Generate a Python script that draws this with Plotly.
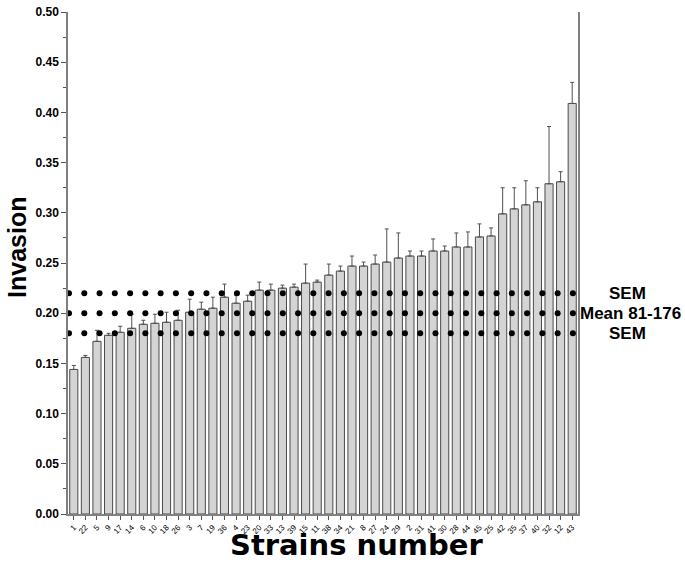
import numpy as np
import plotly.graph_objects as go

# strains, sorted by invasion (as in the original figure)
strains = ["1", "22", "5", "9", "17", "14", "6", "10", "18", "26",
           "3", "7", "19", "36", "4", "23", "20", "33", "13", "39",
           "15", "11", "38", "34", "21", "8", "27", "24", "29", "2",
           "31", "41", "30", "28", "44", "45", "25", "42", "35", "37",
           "40", "32", "12", "43"]

invasion = [0.144, 0.156, 0.172, 0.178, 0.181, 0.185, 0.189, 0.190, 0.191, 0.193,
            0.201, 0.204, 0.205, 0.216, 0.210, 0.212, 0.223, 0.223, 0.225, 0.226,
            0.230, 0.231, 0.238, 0.242, 0.247, 0.247, 0.249, 0.251, 0.255, 0.257,
            0.257, 0.262, 0.262, 0.266, 0.266, 0.276, 0.277, 0.299, 0.304, 0.308,
            0.311, 0.329, 0.331, 0.409]

sem = [0.004, 0.002, 0.011, 0.002, 0.006, 0.014, 0.004, 0.009, 0.010, 0.010,
       0.013, 0.007, 0.011, 0.013, 0.008, 0.006, 0.008, 0.006, 0.003, 0.003,
       0.019, 0.002, 0.011, 0.005, 0.010, 0.004, 0.009, 0.033, 0.025, 0.005,
       0.005, 0.012, 0.005, 0.014, 0.015, 0.013, 0.008, 0.026, 0.021, 0.024,
       0.014, 0.057, 0.010, 0.021]

# reference levels of strain 81-176
ref_levels = [0.22, 0.20, 0.18]
ref_labels = ["SEM", "Mean 81-176", "SEM"]

FONT = "Liberation Sans, Arial, sans-serif"

fig = go.Figure()

fig.add_trace(go.Bar(
    x=strains, y=invasion,
    marker=dict(color="#d4d4d4", line=dict(color="#4a4a4a", width=1)),
    error_y=dict(type="data", array=sem, arrayminus=[0] * len(sem),
                 symmetric=False, color="#505050", thickness=1, width=2),
    showlegend=False,
))

# dotted reference lines drawn as rows of dots on an overlay axis
n_dots = 34
dots_x = np.linspace(0.002, 0.99, n_dots)
for lvl in ref_levels:
    fig.add_trace(go.Scatter(
        x=dots_x, y=[lvl] * n_dots, xaxis="x2",
        mode="markers", marker=dict(color="black", size=6),
        showlegend=False, hoverinfo="skip",
    ))

for lvl, lab in zip(ref_levels, ref_labels):
    fig.add_annotation(
        x=1.0 if lab.startswith("Mean") else 1.057, y=lvl,
        xref="paper", yref="y", xanchor="left", yanchor="middle",
        text=lab, showarrow=False,
        font=dict(family=FONT, size=17, color="black", weight="bold"),
    )

# axis titles
fig.add_annotation(
    x=0.567, y=-0.061, xref="paper", yref="paper",
    xanchor="center", yanchor="middle", text="Strains number", showarrow=False,
    font=dict(family="DejaVu Sans, sans-serif", size=29, color="black", weight="bold"),
)
fig.add_annotation(
    x=-0.1, y=0.53, xref="paper", yref="paper", textangle=-90,
    xanchor="center", yanchor="middle", text="Invasion", showarrow=False,
    font=dict(family=FONT, size=25, color="black", weight="bold"),
)

fig.update_layout(
    width=685, height=571,
    margin=dict(l=68, r=107, t=5, b=57),
    paper_bgcolor="white", plot_bgcolor="white",
    bargap=0.3,
    font=dict(family=FONT, color="black"),
    xaxis=dict(
        showline=True, linecolor="#808080", linewidth=1.5,
        ticks="outside", ticklen=4, tickcolor="#555555",
        tickangle=-45, tickfont=dict(size=8, color="black"),
        showgrid=False, zeroline=False,
    ),
    xaxis2=dict(overlaying="x", range=[0, 1], visible=False),
    yaxis=dict(
        range=[0, 0.5001], dtick=0.05, tickformat=".2f",
        showline=True, mirror=True, linecolor="#808080", linewidth=1.5,
        ticks="outside", ticklen=5, tickcolor="#555555",
        minor=dict(dtick=0.025, ticks="outside", ticklen=3, tickcolor="#555555"),
        tickfont=dict(size=12, color="black", weight="bold"),
        ticklabeloverflow="allow",
        showgrid=False, zeroline=False,
    ),
)

# the page's default body margin would push the figure 8px off the window
fig.write_html("out.html", config={"displayModeBar": False},
               post_script="document.body.style.margin = '0';")
